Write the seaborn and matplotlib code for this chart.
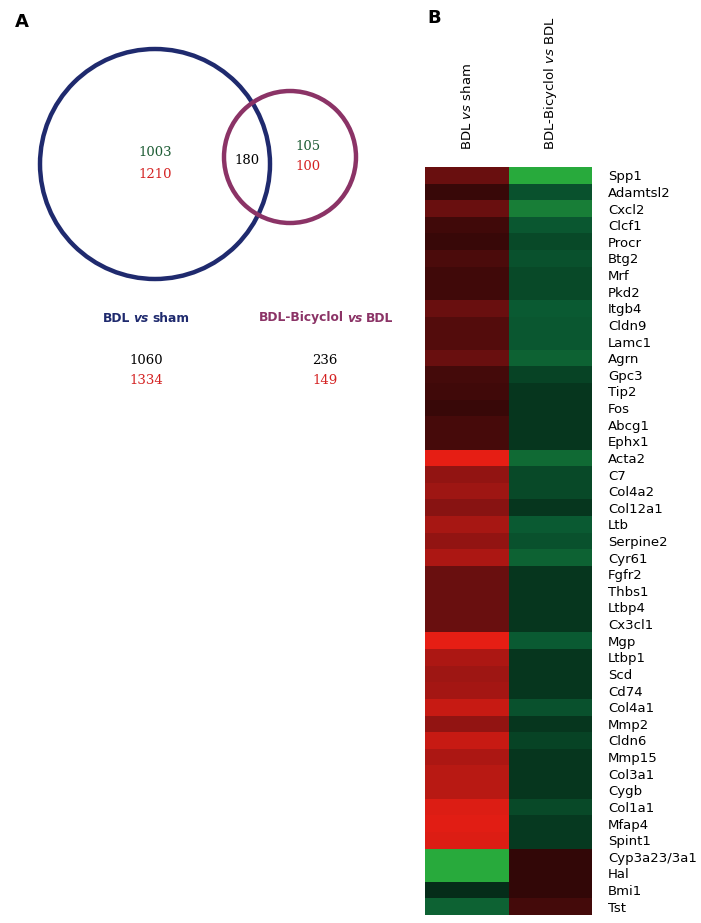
import numpy as np
import pandas as pd
import matplotlib
matplotlib.use("Agg")
import matplotlib.pyplot as plt
import seaborn as sns
from matplotlib.colors import LinearSegmentedColormap
from matplotlib.patches import Circle
from matplotlib.offsetbox import TextArea, HPacker, AnnotationBbox

# dados do painel B (log fold change aproximado)
genes = ["Spp1", "Adamtsl2", "Cxcl2", "Clcf1", "Procr", "Btg2", "Mrf", "Pkd2",
         "Itgb4", "Cldn9", "Lamc1", "Agrn", "Gpc3", "Tip2", "Fos", "Abcg1",
         "Ephx1", "Acta2", "C7", "Col4a2", "Col12a1", "Ltb", "Serpine2", "Cyr61",
         "Fgfr2", "Thbs1", "Ltbp4", "Cx3cl1", "Mgp", "Ltbp1", "Scd", "Cd74",
         "Col4a1", "Mmp2", "Cldn6", "Mmp15", "Col3a1", "Cygb", "Col1a1", "Mfap4",
         "Spint1", "Cyp3a23/3a1", "Hal", "Bmi1", "Tst"]
bdl_vs_sham = [0.42, 0.22, 0.42, 0.25, 0.22, 0.30, 0.25, 0.25,
               0.42, 0.33, 0.33, 0.42, 0.27, 0.25, 0.22, 0.28,
               0.28, 1.00, 0.60, 0.65, 0.55, 0.70, 0.60, 0.72,
               0.42, 0.42, 0.42, 0.42, 1.00, 0.72, 0.65, 0.68,
               0.85, 0.60, 0.85, 0.72, 0.78, 0.78, 0.95, 0.97,
               0.95, -1.00, -1.00, -0.25, -0.55]
bic_vs_bdl = [-1.00, -0.45, -0.72, -0.48, -0.40, -0.45, -0.40, -0.40,
              -0.50, -0.48, -0.48, -0.55, -0.37, -0.30, -0.30, -0.30,
              -0.30, -0.60, -0.40, -0.40, -0.30, -0.50, -0.45, -0.55,
              -0.30, -0.30, -0.30, -0.30, -0.50, -0.30, -0.30, -0.30,
              -0.45, -0.30, -0.37, -0.30, -0.30, -0.30, -0.40, -0.32,
              -0.32, 0.20, 0.20, 0.20, 0.27]

# dados do painel A (diagrama de Venn)
venn_so_bdl = [1003, 1210]      # verde (down), vermelho (up)
venn_comum = 180
venn_so_bic = [105, 100]
total_bdl = [1060, 1334]
total_bic = [236, 149]

NAVY = "#1f2a6e"
MAROON = "#8b3366"
VERDE = "#1d5c34"
VERMELHO = "#d42222"

plt.rcParams["mathtext.fontset"] = "custom"
plt.rcParams["mathtext.rm"] = "DejaVu Sans"
plt.rcParams["mathtext.it"] = "DejaVu Sans:italic"

fig = plt.figure(figsize=(7.01, 9.23), dpi=100)

# ---- painel A ----
axA = fig.add_axes([0, 0, 420 / 701, 1])
axA.set_xlim(0, 420)
axA.set_ylim(923, 0)
axA.axis("off")
axA.add_patch(Circle((155, 164), 115, fill=False, ec=NAVY, lw=3.2))
axA.add_patch(Circle((290, 157), 66, fill=False, ec=MAROON, lw=3.2))

num_font = dict(family="DejaVu Serif", fontsize=9.5, ha="center", va="center")
axA.text(155, 153, str(venn_so_bdl[0]), color=VERDE, **num_font)
axA.text(155, 174, str(venn_so_bdl[1]), color=VERMELHO, **num_font)
axA.text(247, 160, str(venn_comum), color="black", **num_font)
axA.text(308, 147, str(venn_so_bic[0]), color=VERDE, **num_font)
axA.text(308, 167, str(venn_so_bic[1]), color=VERMELHO, **num_font)

axA.text(146, 360, str(total_bdl[0]), color="black", **num_font)
axA.text(146, 381, str(total_bdl[1]), color=VERMELHO, **num_font)
axA.text(325, 360, str(total_bic[0]), color="black", **num_font)
axA.text(325, 381, str(total_bic[1]), color=VERMELHO, **num_font)


def rotulo(ax, partes, x, y, cor):
    filhos = []
    for txt, estilo in partes:
        filhos.append(TextArea(txt, textprops=dict(color=cor, fontsize=8.8,
                                                   fontweight="bold", fontstyle=estilo)))
    caixa = HPacker(children=filhos, pad=0, sep=2.5, align="baseline")
    ab = AnnotationBbox(caixa, (x, y), xycoords="data", frameon=False,
                        box_alignment=(0.5, 0.5))
    ax.add_artist(ab)


rotulo(axA, [("BDL", "normal"), ("vs", "italic"), ("sham", "normal")], 146, 318, NAVY)
rotulo(axA, [("BDL-Bicyclol", "normal"), ("vs", "italic"), ("BDL", "normal")], 326, 318, MAROON)

fig.text(15 / 701, 1 - 22 / 923, "A", fontsize=13, fontweight="bold", va="center", ha="left")
fig.text(427 / 701, 1 - 18 / 923, "B", fontsize=13, fontweight="bold", va="center", ha="left")

# ---- painel B: heatmap ----
df = pd.DataFrame({"BDL $\\it{vs}$ sham": bdl_vs_sham,
                   "BDL-Bicyclol $\\it{vs}$ BDL": bic_vs_bdl}, index=genes)

cmap = LinearSegmentedColormap.from_list(
    "verde_preto_vermelho",
    [(0.0, "#28aa3c"), (0.25, "#0a5a32"), (0.5, "#000000"),
     (0.75, "#7d1212"), (1.0, "#e61e14")])

axB = fig.add_axes([425 / 701, 1 - 915 / 923, 167 / 701, (915 - 167) / 923])
sns.heatmap(df, ax=axB, cmap=cmap, vmin=-1, vmax=1, cbar=False,
            xticklabels=True, yticklabels=True)
axB.yaxis.tick_right()
axB.xaxis.tick_top()
axB.tick_params(axis="y", length=0, pad=11.5, labelsize=9.5, rotation=0)
axB.tick_params(axis="x", length=0, pad=12, labelsize=9.5, rotation=90)
for t in axB.get_yticklabels():
    t.set_ha("left")
axB.set_xlabel("")
axB.set_ylabel("")

fig.savefig("out.png", dpi=100)
